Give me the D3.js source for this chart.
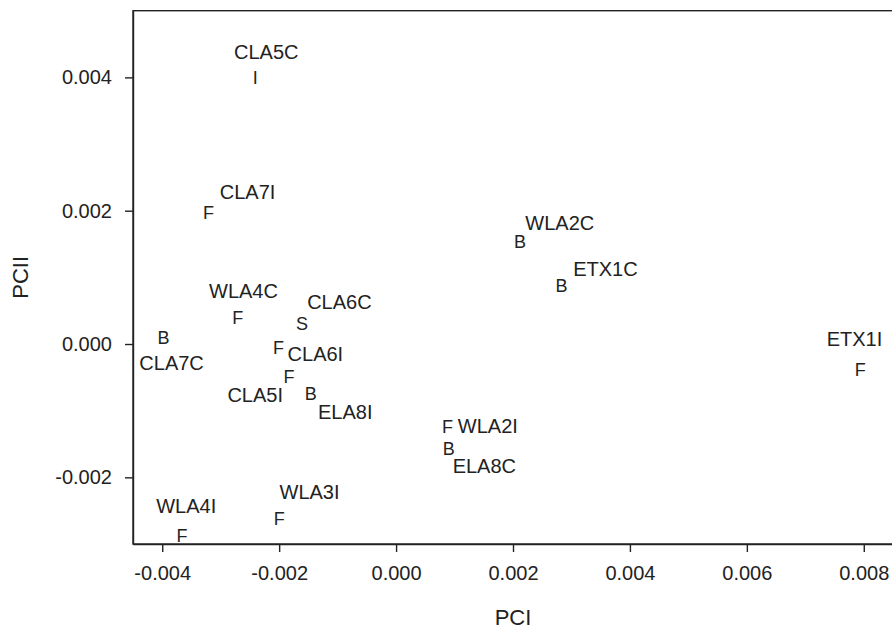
<!DOCTYPE html>
<html>
<head>
<meta charset="utf-8">
<script src="https://cdn.jsdelivr.net/npm/d3@7"></script>
<style>
  html, body { margin: 0; padding: 0; background: #fff; }
  svg { display: block; }
  text { font-family: "Liberation Sans", Arial, sans-serif; fill: #222; }
</style>
</head>
<body>
<svg id="chart" width="892" height="630"></svg>
<script>
// ---- data ----
const names   = ["CLA5C","CLA7I","WLA2C","ETX1C","WLA4C","CLA6C","CLA7C","CLA6I","CLA5I","ELA8I","WLA3I","WLA4I","WLA2I","ELA8C","ETX1I"];
const symbols = ["I","F","B","B","F","S","B","F","F","B","F","F","F","B","F"];
const pc1     = [-0.00241,-0.00321,0.00212,0.00283,-0.00271,-0.00161,-0.00398,-0.00201,-0.00183,-0.00146,-0.00200,-0.00366,0.00088,0.00090,0.00794];
const pc2     = [0.00400,0.00198,0.00154,0.00087,0.00039,0.00031,0.00009,-0.00005,-0.00049,-0.00075,-0.00262,-0.00287,-0.00124,-0.00157,-0.00038];
const labelX  = [-0.00222,-0.00254,0.00280,0.00358,-0.00261,-0.00097,-0.00384,-0.00138,-0.00241,-0.00087,-0.00148,-0.00359,0.00157,0.00151,0.00784];
const labelY  = [0.00438,0.00228,0.00182,0.00113,0.00080,0.00064,-0.00028,-0.00014,-0.00076,-0.00102,-0.00221,-0.00242,-0.00123,-0.00182,0.00008];
const xTicks  = [-0.004,-0.002,0.000,0.002,0.004,0.006,0.008];
const yTicks  = [-0.002,0.000,0.002,0.004];
const xTitle  = "PCI";
const yTitle  = "PCII";

// ---- layout ----
const svg = d3.select("#chart");
const mLeft = 133, mRight = 893, mTop = 10.7, mBottom = 544;
const x = d3.scaleLinear().domain([-0.0045, 0.0085]).range([mLeft, mRight]);
const y = d3.scaleLinear().domain([-0.003, 0.005]).range([mBottom, mTop]);
const fmt = d => d.toFixed(3);
const FS = 20;

// frame
svg.append("rect")
  .attr("x", mLeft).attr("y", mTop)
  .attr("width", mRight - mLeft).attr("height", mBottom - mTop)
  .attr("fill", "none").attr("stroke", "#222").attr("stroke-width", 1.4);

// axes
const xAxis = svg.append("g").attr("transform", `translate(0,${mBottom})`)
  .call(d3.axisBottom(x).tickValues(xTicks).tickFormat(fmt).tickSizeOuter(0).tickSizeInner(8).tickPadding(14));
const yAxis = svg.append("g").attr("transform", `translate(${mLeft},0)`)
  .call(d3.axisLeft(y).tickValues(yTicks).tickFormat(fmt).tickSizeOuter(0).tickSizeInner(8).tickPadding(13));
[xAxis, yAxis].forEach(g => {
  g.select(".domain").attr("stroke", "#222").attr("stroke-width", 1.4);
  g.selectAll(".tick line").attr("stroke", "#222").attr("stroke-width", 1.4);
  g.selectAll(".tick text").attr("font-size", FS).attr("fill", "#222")
    .attr("font-family", "'Liberation Sans', Arial, sans-serif");
});

// axis titles
svg.append("text")
  .attr("x", (mLeft + mRight) / 2).attr("y", 625)
  .attr("text-anchor", "middle").attr("font-size", 22).text(xTitle);
svg.append("text")
  .attr("transform", `translate(28,${(mTop + mBottom) / 2}) rotate(-90)`)
  .attr("text-anchor", "middle").attr("font-size", 22).text(yTitle);

// points as letters
const idx = d3.range(names.length);
svg.append("g").selectAll("text").data(idx).join("text")
  .attr("x", i => x(pc1[i])).attr("y", i => y(pc2[i]))
  .attr("dy", "0.36em")
  .attr("text-anchor", "middle").attr("font-size", 18)
  .text(i => symbols[i]);

// labels
svg.append("g").selectAll("text").data(idx).join("text")
  .attr("x", i => x(labelX[i])).attr("y", i => y(labelY[i]))
  .attr("dy", "0.36em")
  .attr("text-anchor", "middle").attr("font-size", FS)
  .text(i => names[i]);
</script>
</body>
</html>
